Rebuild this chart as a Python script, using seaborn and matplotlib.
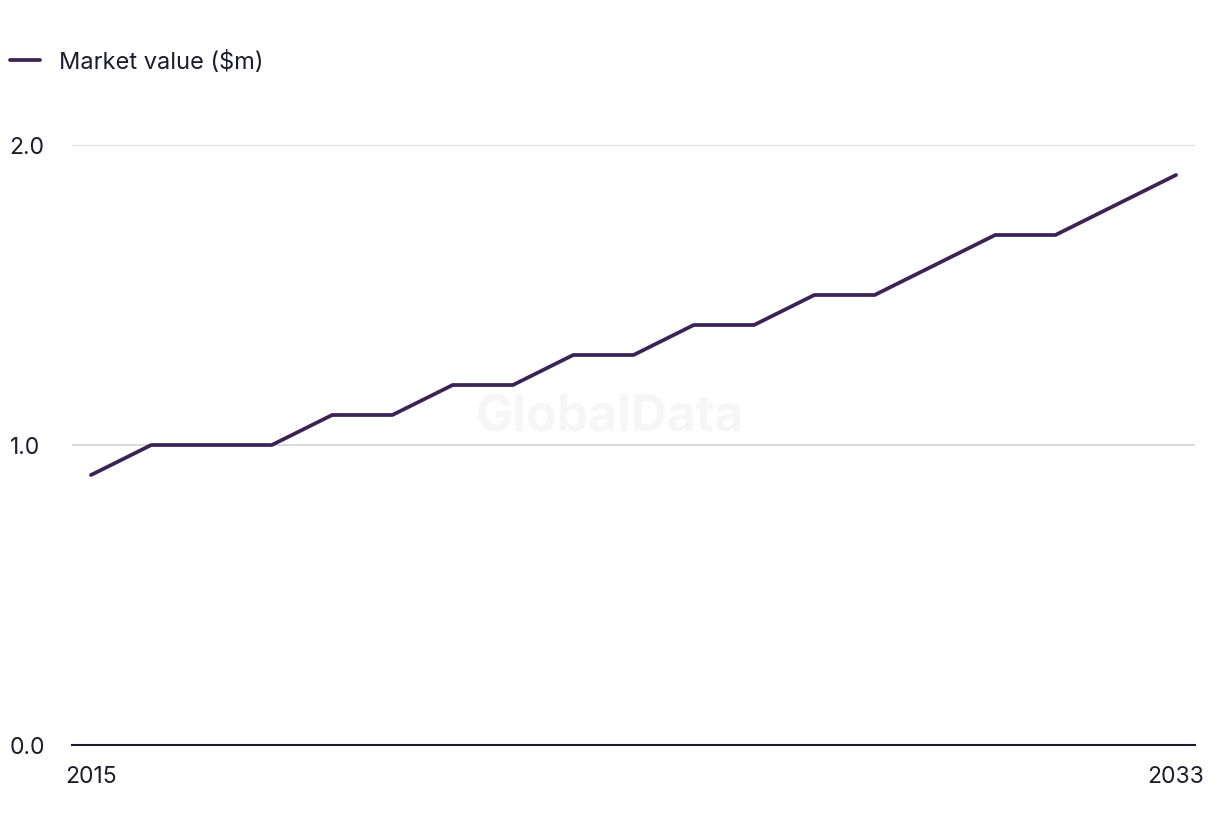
import matplotlib
matplotlib.use("Agg")
import matplotlib.pyplot as plt
import seaborn as sns
import pandas as pd

years = list(range(2015, 2034))
market_value = [0.9, 1.0, 1.0, 1.0, 1.1, 1.1, 1.2, 1.2, 1.3, 1.3,
                1.4, 1.4, 1.5, 1.5, 1.6, 1.7, 1.7, 1.8, 1.9]
series_label = "Market value ($m)"
y_ticks = [0.0, 1.0, 2.0]
x_tick_labels = ["2015", "2033"]

sns.set_theme(style="white")
plt.rcParams['font.family'] = ['Inter', 'DejaVu Sans']

df = pd.DataFrame({"year": years, "value": market_value})

fig = plt.figure(figsize=(12.2, 8.36), dpi=100)
ax = fig.add_axes([72/1220, 1 - 745/836, (1195-72)/1220, (745-145)/836])

line_color = "#3b2358"
text_color = "#1c1c2c"

sns.lineplot(data=df, x="year", y="value", ax=ax, color=line_color,
             linewidth=2.7, label=series_label, legend=False)

ax.set_xlim(2015 - 19/60.28, 2033 + 19/60.28)
ax.set_ylim(0, 2.0)
ax.set_xlabel("")
ax.set_ylabel("")

ax.set_yticks(y_ticks)
ax.set_yticklabels([f"{v:.1f}" for v in y_ticks])
ax.set_xticks([2015, 2033])
ax.set_xticklabels(x_tick_labels)

for s in ["top", "right", "left"]:
    ax.spines[s].set_visible(False)
ax.spines["bottom"].set_color(text_color)
ax.spines["bottom"].set_linewidth(1.5)

ax.yaxis.grid(True, color="#d4d4d4", linewidth=1.2)
ax.set_axisbelow(True)
ax.tick_params(axis="both", length=0, labelsize=16.5, colors=text_color)
ax.tick_params(axis="y", pad=45)
for t in ax.get_yticklabels():
    t.set_horizontalalignment("left")
ax.tick_params(axis="x", pad=15)

# watermark
ax.text((610 - 72) / 1123, 0.545, "GlobalData", transform=ax.transAxes,
        ha="center", va="center", fontsize=36, fontweight="bold",
        color="#f6f6f6", zorder=0)

# legend
leg = fig.legend(handles=ax.get_lines()[:1], labels=[series_label],
                 loc="center left", bbox_to_anchor=(10/1220, 1 - 62/836),
                 frameon=False, fontsize=17, handlelength=1.27, handletextpad=0.8,
                 borderpad=0, borderaxespad=0, labelcolor=text_color)

fig.savefig("out.png", dpi=100, facecolor="white")
